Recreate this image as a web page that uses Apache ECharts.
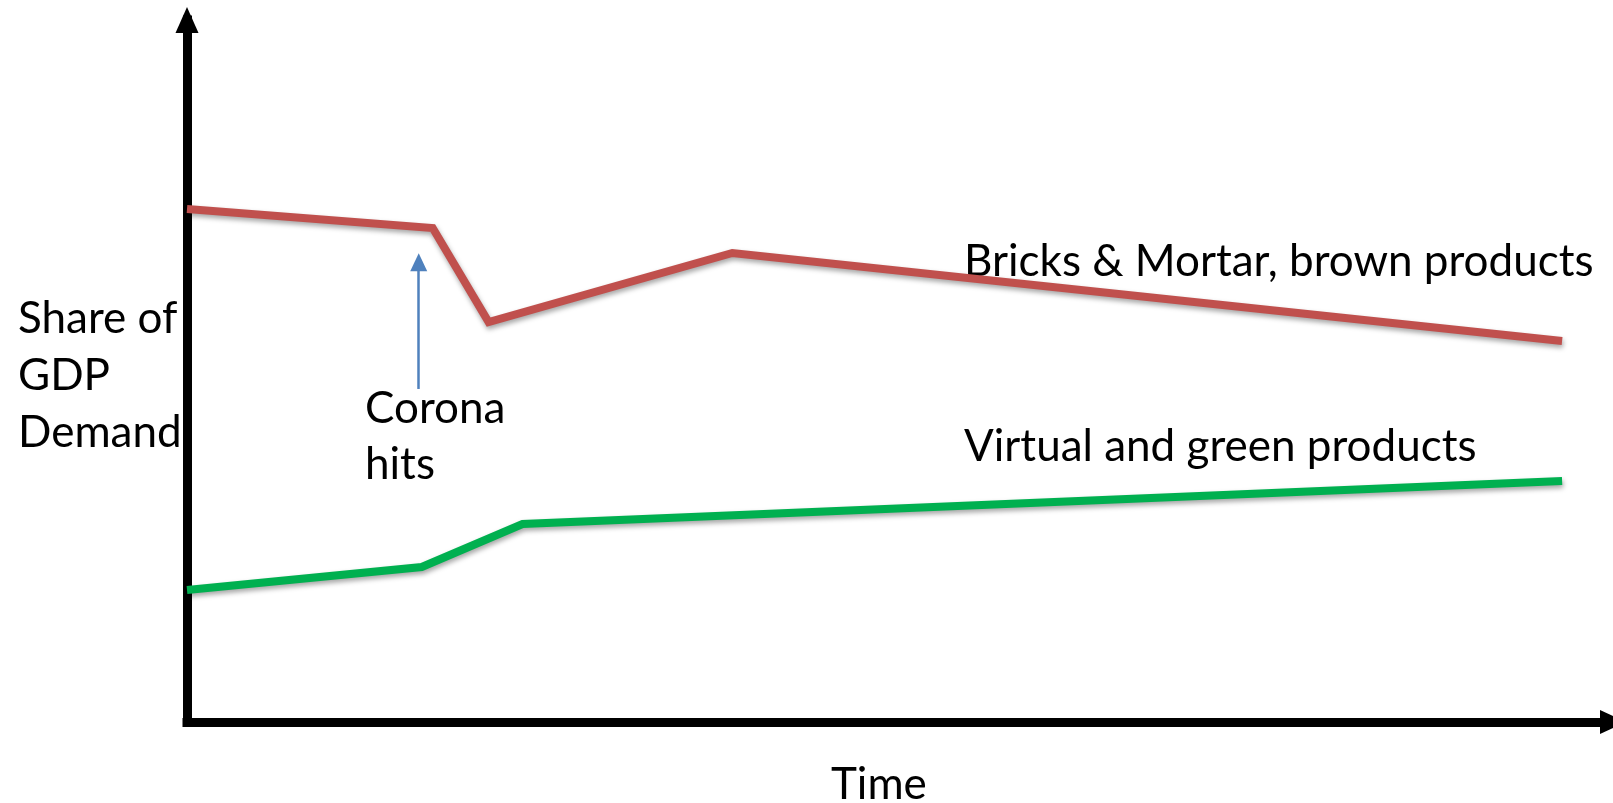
<!DOCTYPE html>
<html>
<head>
<meta charset="utf-8">
<script src="https://cdn.jsdelivr.net/npm/echarts@6/dist/echarts.min.js"></script>
<style>
html,body{margin:0;padding:0;background:#fff;}
#chart{width:1613px;height:803px;}
</style>
</head>
<body>
<div id="chart"></div>
<script>
// Data (time units 0-100, share units 0-100)
var bricksTime  = [0, 17.23, 21.15, 38.24, 96.43];
var bricksShare = [73.08, 70.37, 56.98, 66.81, 54.27];
var greenTime   = [0, 16.46, 23.53, 96.43];
var greenShare  = [18.80, 22.08, 28.21, 34.33];
var coronaTime  = 16.25;
var coronaArrow = [47.44, 65.5]; // from, to (share units)

var yLabel = ['Share of', 'GDP', 'Demand'];
var xLabel = 'Time';
var coronaLabel = ['Corona', 'hits'];
var bricksLabel = 'Bricks & Mortar, brown products';
var greenLabel = 'Virtual and green products';

function pairs(xs, ys){ return xs.map(function(x,i){ return [x, ys[i]]; }); }

var FONT = 'Lato, "Open Sans", sans-serif';
var FS = 44;
var chart = echarts.init(document.getElementById('chart'), null, {renderer:'canvas'});
var shadow = {shadowColor:'rgba(0,0,0,0.35)', shadowBlur:5, shadowOffsetX:1, shadowOffsetY:3};
chart.setOption({
  animation:false,
  backgroundColor:'#fff',
  grid:{left:187, top:20, width:1428, height:702, containLabel:false},
  xAxis:{type:'value', min:0, max:100,
    axisLine:{show:true, onZero:false, symbol:['none','triangle'], symbolSize:[24,26],
      lineStyle:{color:'#000', width:9, cap:'square'}},
    axisTick:{show:false}, axisLabel:{show:false}, splitLine:{show:false}},
  yAxis:{type:'value', min:0, max:100,
    axisLine:{show:true, onZero:false, symbol:['none','triangle'], symbolSize:[23,26],
      lineStyle:{color:'#000', width:9, cap:'square'}},
    axisTick:{show:false}, axisLabel:{show:false}, splitLine:{show:false}},
  series:[
    {type:'line', name:bricksLabel, data:pairs(bricksTime, bricksShare), symbol:'none',
      lineStyle:Object.assign({color:'#C0504D', width:8, join:'miter'}, shadow), z:3},
    {type:'line', name:greenLabel, data:pairs(greenTime, greenShare), symbol:'none',
      lineStyle:Object.assign({color:'#00B050', width:8, join:'miter'}, shadow), z:3,
      markLine:{silent:true, symbol:['none','triangle'], symbolSize:[17,18],
        label:{show:false},
        lineStyle:{color:'#4F81BD', width:2.5, type:'solid'},
        data:[[{coord:[coronaTime, coronaArrow[0]]},{coord:[coronaTime, coronaArrow[1]]}]]}}
  ],
  graphic:[
    {type:'text', x:18, y:376, style:{text:yLabel.join('\n'), font:FS+'px '+FONT, fill:'#000', lineHeight:57, verticalAlign:'middle', align:'left'}},
    {type:'text', x:365, y:437, style:{text:coronaLabel.join('\n'), font:FS+'px '+FONT, fill:'#000', lineHeight:56, verticalAlign:'middle', align:'left'}},
    {type:'text', x:964, y:262, style:{text:bricksLabel, font:FS+'px '+FONT, fill:'#000', verticalAlign:'middle', align:'left'}},
    {type:'text', x:964, y:447, style:{text:greenLabel, font:FS+'px '+FONT, fill:'#000', verticalAlign:'middle', align:'left'}},
    {type:'text', x:831, y:785, style:{text:xLabel, font:FS+'px '+FONT, fill:'#000', verticalAlign:'middle', align:'left'}}
  ]
});
</script>
</body>
</html>
